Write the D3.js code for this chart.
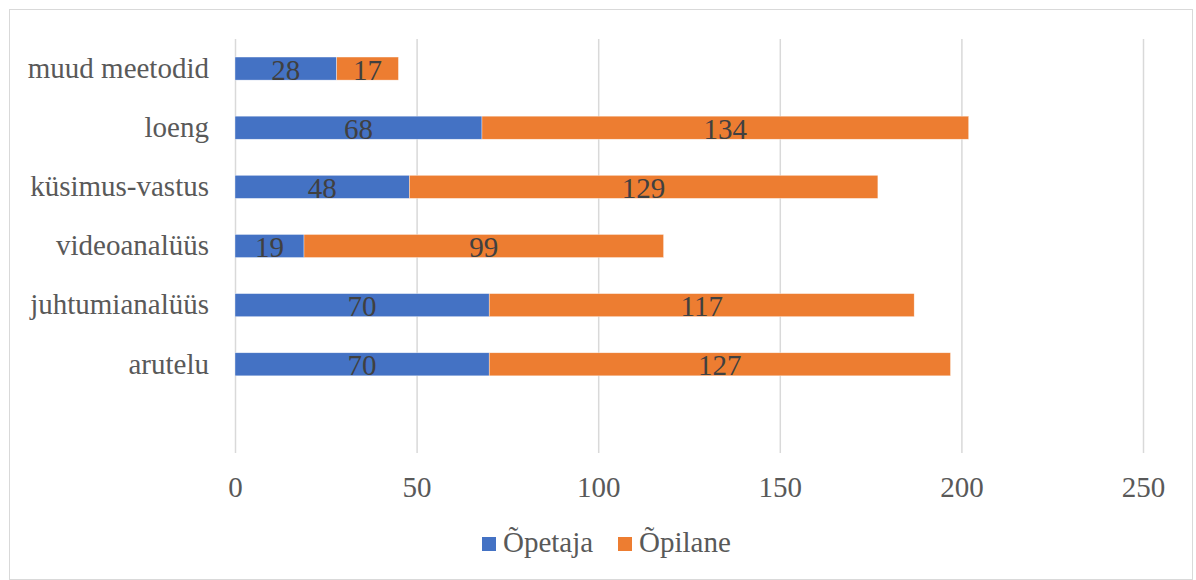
<!DOCTYPE html>
<html>
<head>
<meta charset="utf-8">
<script src="https://cdn.jsdelivr.net/npm/d3@7"></script>
<style>
  html, body { margin: 0; padding: 0; background: #fff; }
  svg { display: block; }
</style>
</head>
<body>
<svg id="chart" width="1196" height="580"></svg>
<script>
// Categories, top to bottom (last slot is an empty category row)
const categories = ["muud meetodid", "loeng", "küsimus-vastus", "videoanalüüs", "juhtumianalüüs", "arutelu", ""];
const seriesNames = ["Õpetaja", "Õpilane"];
const opetaja = [28, 68, 48, 19, 70, 70, null];
const opilane = [17, 134, 129, 99, 117, 127, null];
const xTicks = [0, 50, 100, 150, 200, 250];
const colors = ["#4472C4", "#ED7D31"];

const FONT = "'Liberation Serif', 'Times New Roman', serif";
const FS = "29px";

const svg = d3.select("#chart");
const W = 1196, H = 580;

// outer chart frame
svg.append("rect")
  .attr("x", 9.5).attr("y", 9.5)
  .attr("width", W - 13).attr("height", H - 10)
  .attr("fill", "#fff").attr("stroke", "#d9d9d9").attr("stroke-width", 1);

const plot = { left: 235, right: 1143, top: 39, bottom: 453 };

const x = d3.scaleLinear().domain([0, 250]).range([plot.left, plot.right]);
const y = d3.scaleBand().domain(categories)
  .range([plot.top, plot.bottom])
  .paddingInner(0.61).paddingOuter(0.305);

// vertical gridlines
svg.append("g")
  .selectAll("line")
  .data(xTicks)
  .join("line")
  .attr("x1", d => x(d) + 0.5).attr("x2", d => x(d) + 0.5)
  .attr("y1", plot.top).attr("y2", plot.bottom)
  .attr("stroke", "#d9d9d9").attr("stroke-width", 1.5);

// x axis tick labels
const xAxis = d3.axisBottom(x).tickValues(xTicks).tickSize(0).tickPadding(0);
const gx = svg.append("g").attr("transform", `translate(0,${plot.bottom})`).call(xAxis)
  .attr("font-family", null);
gx.select(".domain").remove();
gx.selectAll("text")
  .attr("y", 44).attr("dy", null)
  .style("font-family", FONT).style("font-size", FS)
  .attr("fill", "#595959");

// category labels
const yAxis = d3.axisLeft(y).tickSize(0).tickPadding(0);
const gy = svg.append("g").attr("transform", `translate(209,0)`).call(yAxis)
  .attr("font-family", null);
gy.select(".domain").remove();
gy.selectAll("text")
  .attr("x", 0).attr("dy", "0.32em")
  .style("font-family", FONT).style("font-size", FS)
  .attr("fill", "#595959");

// stacked bars
const rows = categories.map((c, i) => ({ cat: c, "Õpetaja": opetaja[i], "Õpilane": opilane[i] }))
  .filter(r => r["Õpetaja"] != null);
const stacked = d3.stack().keys(seriesNames)(rows);

const layers = svg.append("g").selectAll("g")
  .data(stacked)
  .join("g")
  .attr("fill", (d, i) => colors[i]);

layers.selectAll("rect")
  .data(d => d)
  .join("rect")
  .attr("x", d => x(d[0]))
  .attr("y", d => y(d.data.cat))
  .attr("width", d => x(d[1]) - x(d[0]))
  .attr("height", y.bandwidth())
  .attr("stroke", "#ffffff").attr("stroke-width", 0.6).attr("stroke-opacity", 0.6);

// value labels centred in each segment
layers.selectAll("text")
  .data(d => d)
  .join("text")
  .attr("x", d => (x(d[0]) + x(d[1])) / 2)
  .attr("y", d => y(d.data.cat) + y.bandwidth() / 2)
  .attr("dy", "0.38em")
  .attr("text-anchor", "middle")
  .style("font-family", FONT).style("font-size", FS)
  .attr("fill", "#404040")
  .text(d => d[1] - d[0]);

// legend
const legend = svg.append("g").attr("transform", "translate(482,537)");
const items = [
  { name: seriesNames[0], color: colors[0], dx: 0 },
  { name: seriesNames[1], color: colors[1], dx: 136 }
];
const li = legend.selectAll("g").data(items).join("g")
  .attr("transform", d => `translate(${d.dx},0)`);
li.append("rect").attr("width", 14).attr("height", 14).attr("fill", d => d.color);
li.append("text")
  .attr("x", 21).attr("y", 15)
  .style("font-family", FONT).style("font-size", FS)
  .attr("fill", "#595959")
  .text(d => d.name);
</script>
</body>
</html>
